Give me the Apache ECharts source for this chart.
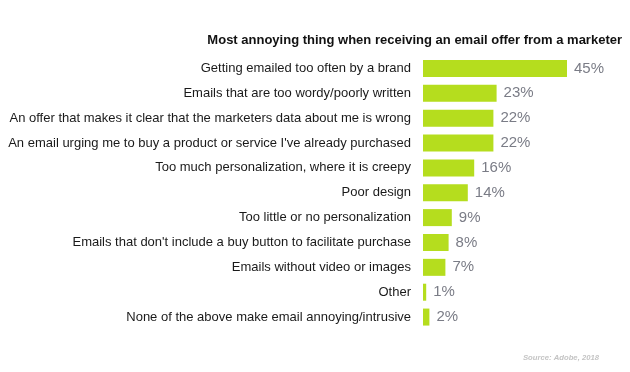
<!DOCTYPE html>
<html><head><meta charset="utf-8">
<script src="https://cdn.jsdelivr.net/npm/echarts@6/dist/echarts.min.js"></script>
<style>html,body{margin:0;padding:0;background:#fff}#c{width:630px;height:372px}</style>
</head><body><div id="c"></div>
<script>
const categories = [
  "Getting emailed too often by a brand",
  "Emails that are too wordy/poorly written",
  "An offer that makes it clear that the marketers data about me is wrong",
  "An email urging me to buy a product or service I've already purchased",
  "Too much personalization, where it is creepy",
  "Poor design",
  "Too little or no personalization",
  "Emails that don't include a buy button to facilitate purchase",
  "Emails without video or images",
  "Other",
  "None of the above make email annoying/intrusive"
];
const values = [45, 23, 22, 22, 16, 14, 9, 8, 7, 1, 2];
const titleText = "Most annoying thing when receiving an email offer from a marketer";
const sourceText = "Source: Adobe, 2018";

const chart = echarts.init(document.getElementById('c'), null, {renderer: 'canvas'});
chart.setOption({
  animation: false,
  textStyle: {fontFamily: 'Liberation Sans, Arial, sans-serif'},
  title: [{
    text: titleText, right: 3, top: 29,
    textStyle: {fontSize: 13, fontWeight: 'bold', color: '#111', fontFamily: 'Liberation Sans, Arial, sans-serif'}
  }, {
    text: sourceText, right: 26, top: 349,
    textStyle: {fontSize: 7.7, fontWeight: 'bold', fontStyle: 'italic', color: '#c4c4c4', fontFamily: 'Liberation Sans, Arial, sans-serif'}
  }],
  grid: {left: 423, right: 63, top: 56, bottom: 42.5, containLabel: false},
  xAxis: {type: 'value', min: 0, max: 45, show: false},
  yAxis: {
    type: 'category', data: categories, inverse: true,
    axisLine: {show: false}, axisTick: {show: false}, splitLine: {show: false},
    axisLabel: {fontSize: 13, color: '#1a1a1a', margin: 12, fontFamily: 'Liberation Sans, Arial, sans-serif'}
  },
  series: [{
    type: 'bar', data: values, barWidth: 17,
    itemStyle: {color: '#b5dd1e'},
    label: {show: true, position: 'right', distance: 7, formatter: '{c}%', fontSize: 15, color: '#7a7c86', fontFamily: 'Liberation Sans, Arial, sans-serif'}
  }]
});
</script></body></html>
